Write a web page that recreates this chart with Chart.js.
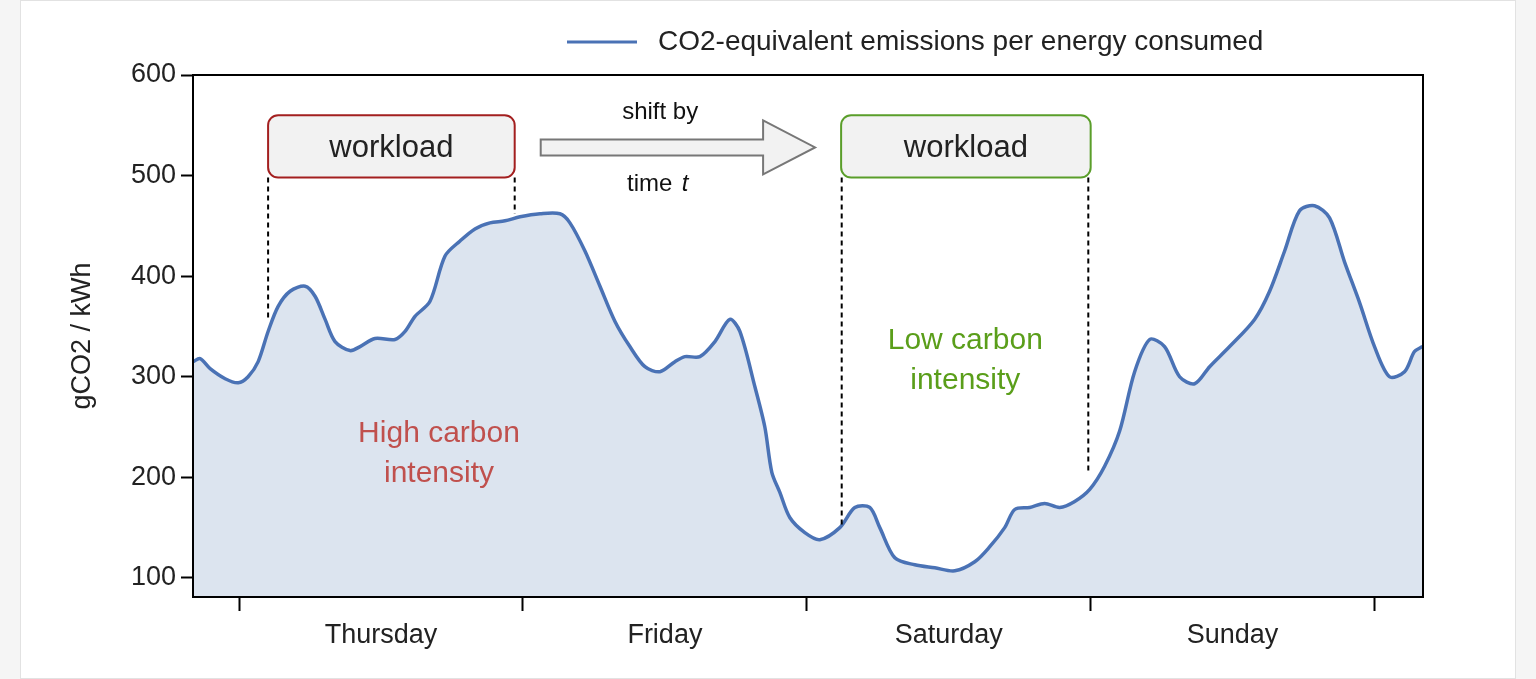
<!DOCTYPE html>
<html><head><meta charset="utf-8">
<script src="https://cdn.jsdelivr.net/npm/chart.js@4"></script>
<style>
html,body{margin:0;padding:0;background:#f5f5f5;}
#card{position:absolute;left:20px;top:0;width:1494px;height:677px;background:#fff;border:1px solid #e2e2e2;}
#wrap{position:absolute;left:0;top:0;width:1536px;height:679px;}
</style></head><body>
<div id="card"></div>
<div id="wrap"><canvas id="c" width="1536" height="679"></canvas></div>
<script>
const hours=[-3.89,-3.30,-2.45,-1.18,-0.08,0.76,1.61,2.45,3.30,4.31,5.58,6.42,7.27,8.11,9.38,10.23,11.49,13.18,14.03,14.87,16.14,17.41,18.68,19.94,21.21,22.48,23.75,25.44,27.13,27.97,29.24,30.51,31.78,33.04,34.31,35.58,36.85,37.69,38.96,40.23,41.49,42.34,43.61,44.45,45.04,45.72,46.56,47.83,49.10,50.79,52.06,53.32,54.17,55.44,57.13,58.82,60.51,62.20,63.47,64.73,65.58,66.85,68.11,69.38,70.65,71.92,73.18,74.45,75.72,76.99,78.25,79.52,80.79,82.06,83.75,85.86,87.13,88.40,89.66,90.93,92.20,93.47,94.73,96.00,97.27,98.54,99.38,100.06];
const emissions=[315,318,308,298,294,300,315,345,370,385,390,380,357,335,326,330,338,337,345,360,375,420,435,447,453,455,459,462,462,453,425,390,355,330,310,305,315,320,320,335,357,345,290,250,205,185,160,145,138,150,170,170,150,120,113,110,107,116,131,150,168,170,174,170,176,188,211,246,305,337,330,300,293,310,330,357,385,425,465,470,458,414,374,330,300,305,325,330];
const dayLabels={12:'Thursday',36:'Friday',60:'Saturday',84:'Sunday'};
const yTicks=[100,200,300,400,500,600];
const seriesName='CO2-equivalent emissions per energy consumed';
const FONT='"Liberation Sans", Arial, sans-serif';

const overlay={id:'overlay',afterDraw(ch){
  const c=ch.ctx,x=ch.scales.x,y=ch.scales.y,a=ch.chartArea;
  const X=v=>x.getPixelForValue(v),Y=v=>y.getPixelForValue(v);
  c.save();
  c.strokeStyle='#000';c.lineWidth=2;c.strokeRect(a.left,a.top,a.right-a.left,a.bottom-a.top);
  c.strokeStyle='#4a72b5';c.lineWidth=3;c.beginPath();c.moveTo(567,42);c.lineTo(637,42);c.stroke();
  c.fillStyle='#222';c.font='28px '+FONT;c.textBaseline='middle';c.textAlign='left';c.fillText(seriesName,658,42);
  function box(h0,h1,col){
    const x0=X(h0),x1=X(h1),y0=Y(560),y1=Y(498),r=10;
    c.beginPath();c.roundRect(x0,y0,x1-x0,y1-y0,r);c.fillStyle='#f2f2f2';c.fill();c.strokeStyle=col;c.lineWidth=2;c.stroke();
    c.fillStyle='#222';c.font='31px '+FONT;c.textAlign='center';c.fillText('workload',(x0+x1)/2,(y0+y1)/2+2);
  }
  function dash(h,v){c.save();c.setLineDash([5,4]);c.strokeStyle='#000';c.lineWidth=2;c.beginPath();c.moveTo(X(h),Y(498));c.lineTo(X(h),Y(v));c.stroke();c.restore();}
  dash(2.45,355);dash(23.3,462);dash(50.95,150);dash(71.8,205);
  box(2.45,23.3,'#a31f1f');box(50.9,72.0,'#5a9e2a');
  const ax0=X(25.5),ax1=X(48.7),yc=Y(528);
  c.beginPath();c.moveTo(ax0,yc-8);c.lineTo(ax1-52,yc-8);c.lineTo(ax1-52,yc-27);c.lineTo(ax1,yc);c.lineTo(ax1-52,yc+27);c.lineTo(ax1-52,yc+8);c.lineTo(ax0,yc+8);c.closePath();
  c.fillStyle='#f2f2f2';c.fill();c.strokeStyle='#777';c.lineWidth=2;c.stroke();
  c.fillStyle='#111';c.font='24px '+FONT;c.textAlign='center';
  c.fillText('shift by',X(35.6),Y(563));
  c.fillText('time ',X(35.0),Y(491));
  c.font='italic 24px '+FONT;c.textAlign='left';c.fillText('t',X(35.0)+c.measureText('t').width+22,Y(491));
  c.font='30px '+FONT;c.textAlign='center';
  c.fillStyle='#c0504d';c.fillText('High carbon',X(16.9),Y(243));c.fillText('intensity',X(16.9),Y(204));
  c.fillStyle='#5a9e1a';c.fillText('Low carbon',X(61.4),Y(336));c.fillText('intensity',X(61.4),Y(296));
  c.restore();
}};

new Chart(document.getElementById('c'),{
  type:'line',
  data:{datasets:[{label:seriesName,data:hours.map((h,i)=>({x:h,y:emissions[i]})),borderColor:'#4a72b5',borderWidth:3.5,backgroundColor:'#dce4ef',fill:'start',pointRadius:0,tension:0.3}]},
  options:{responsive:false,animation:false,
    layout:{padding:{left:62,right:113,top:75,bottom:0}},
    plugins:{legend:{display:false},tooltip:{enabled:false}},
    scales:{
      x:{type:'linear',min:-3.9,max:100.1,
        afterBuildTicks:s=>{s.ticks=[0,12,24,36,48,60,72,84,96].map(v=>({value:v}));},
        afterFit:s=>{s.height=82;},
        border:{display:true,color:'#000',width:2},
        grid:{drawOnChartArea:false,tickLength:14,tickWidth:2,tickColor:ctx=>(ctx.tick&&ctx.tick.value%24===0)?'#000':'rgba(0,0,0,0)'},
        ticks:{autoSkip:false,maxRotation:0,padding:8,color:'#222',font:{size:27,family:FONT},callback:v=>dayLabels[v]||''}},
      y:{min:81,max:600,
        afterBuildTicks:s=>{s.ticks=yTicks.map(v=>({value:v}));},
        afterFit:s=>{s.width=131;},
        border:{display:true,color:'#000',width:2},
        grid:{drawOnChartArea:false,tickLength:12,tickWidth:2,tickColor:'#000'},
        ticks:{padding:5,color:'#222',font:{size:27,family:FONT}},
        title:{display:true,text:'gCO2 / kWh',color:'#222',font:{size:27,family:FONT},padding:{bottom:4}}}
    }},
  plugins:[overlay]
});
</script></body></html>
